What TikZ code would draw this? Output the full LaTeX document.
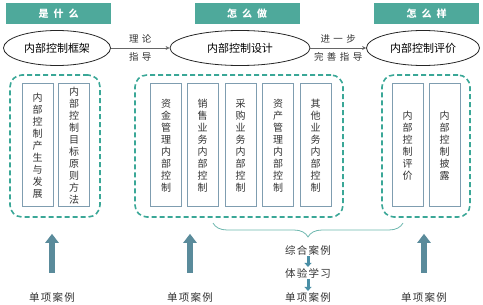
\documentclass[tikz,border=0pt]{standalone}
\usepackage{fontspec}
\setmainfont{Noto Sans CJK SC}
\newfontfamily\spaced[LetterSpace=12]{Noto Sans CJK SC}
\usetikzlibrary{arrows.meta,positioning,shapes.geometric,decorations.pathreplacing}
\definecolor{head}{HTML}{4EA99B}
\definecolor{ring}{HTML}{3AA797}
\definecolor{frame}{HTML}{7F9DB0}
\definecolor{shaft}{HTML}{5A8B9B}
\definecolor{hopc}{HTML}{4A8FA6}
\definecolor{curl}{HTML}{6DB7AE}
\definecolor{ink}{HTML}{333333}
\newcommand\gap{\hspace{3.5pt}}
\begin{document}
\begin{tikzpicture}[x=1pt,y=-1pt,
 banner/.style={fill=head,text=white,minimum width=105pt,minimum height=21pt,inner sep=0pt,font=\bfseries\fontsize{10}{12}\selectfont},
 topic/.style={ellipse,draw=black!85,line width=.8pt,minimum height=35pt,inner sep=0pt,font=\fontsize{11}{13}\selectfont},
 guide/.style={-{Stealth[length=4pt,width=4pt]},black!60,line width=.6pt},
 hint/.style={font=\fontsize{9.5}{11}\selectfont,text=ink},
 group/.style={draw=ring,dash pattern=on 5pt off 3pt,line width=1.6pt,rounded corners=12pt,minimum height=142pt,inner sep=0pt},
 pillar/.style={draw=frame,fill=white,line width=1pt,minimum width=31pt,minimum height=123pt,inner sep=0pt,align=center,font=\fontsize{10}{12}\selectfont,text=ink},
 lift/.style={-{Triangle[length=9pt,width=13pt]},shaft,line width=6pt,shorten <=18pt,shorten >=16pt},
 hop/.style={-{Triangle[length=4pt,width=7pt]},hopc,line width=3pt},
 case/.style={font=\spaced\fontsize{10.5}{12}\selectfont,text=ink,inner sep=1pt},
 curly/.style={curl,line width=.8pt,decorate,decoration={brace,mirror,amplitude=14pt}}]
 \useasboundingbox (0,0) rectangle (483,305);
 % headings
 \node[banner] (h1) at (58.5,13.5) {是\hspace{5pt}什\hspace{5pt}么};
 \node[banner] (h2) at (247,13.5) {怎\hspace{5pt}么\hspace{5pt}做};
 \node[banner] (h3) at (426.5,13.5) {怎\hspace{5pt}么\hspace{5pt}样};
 % ellipses
 \node[topic,minimum width=107pt] (e1) at (57,48) {内部控制框架};
 \node[topic,minimum width=140pt] (e2) at (240,48) {内部控制设计};
 \node[topic,minimum width=113pt] (e3) at (423,48) {内部控制评价};
 \draw[guide] (e1) -- node[hint,above=1pt]{理\gap 论} node[hint,below=1pt]{指\gap 导} (e2);
 \draw[guide] (e2) -- node[hint,above=1pt]{进\gap 一\gap 步} node[hint,below=1pt]{完\gap 善\gap 指\gap 导} (e3);
 % dashed groups
 \node[group,minimum width=90pt] (g1) at (55,146) {};
 \node[group,minimum width=208pt] (g2) at (239,146) {};
 \node[group,minimum width=88pt] (g3) at (426,146) {};
 \node[pillar] (p1) at (37.5,145.5) {内\\部\\控\\制\\产\\生\\与\\发\\展};
 \node[pillar] (p2) at (74,145.5) {内\\部\\控\\制\\目\\标\\原\\则\\方\\法};
 \node[pillar] (p3) at (166,145.5) {资\\金\\管\\理\\内\\部\\控\\制};
 \node[pillar] (p4) at (202.5,145.5) {销\\售\\业\\务\\内\\部\\控\\制};
 \node[pillar] (p5) at (240.5,145.5) {采\\购\\业\\务\\内\\部\\控\\制};
 \node[pillar] (p6) at (278,145.5) {资\\产\\管\\理\\内\\部\\控\\制};
 \node[pillar] (p7) at (315.5,145.5) {其\\他\\业\\务\\内\\部\\控\\制};
 \node[pillar] (p8) at (407.5,145.5) {内\\部\\控\\制\\评\\价};
 \node[pillar] (p9) at (444.5,145.5) {内\\部\\控\\制\\披\\露};
 % cases
 \node[case] (c1) at (52,297) {单项案例};
 \node[case] (c2) at (190,297) {单项案例};
 \node[case] (c3) at (424,297) {单项案例};
 \draw[lift] (c1.north) -- (c1.north |- g1.south);
 \draw[lift] (c2.north) -- (c2.north |- g2.south);
 \draw[lift] (c3.north) -- (c3.north |- g3.south);
 \coordinate (bl) at (213,223); \coordinate (br) at (403,223);
 \draw[curly] (bl) -- (br);
 \node[case] (mix) at (308,250) {综合案例};
 \node[case] (learn) at (308,273) {体验学习};
 \node[case] (c4) at (308,297) {单项案例};
 \draw[hop] (mix) -- (learn); \draw[hop] (learn) -- (c4);
\end{tikzpicture}
\end{document}
